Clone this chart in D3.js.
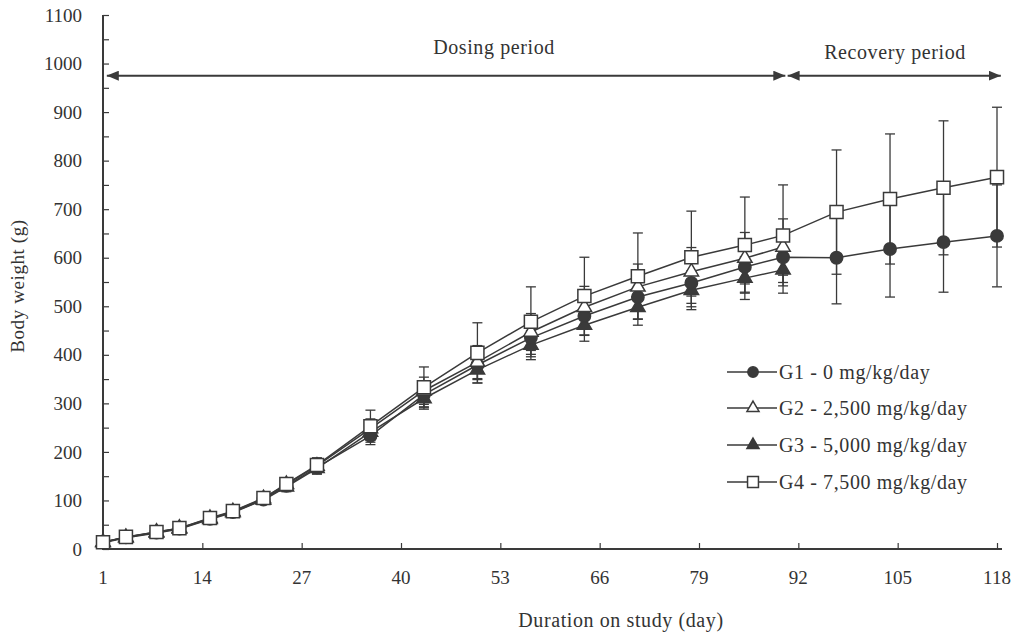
<!DOCTYPE html>
<html>
<head>
<meta charset="utf-8">
<script src="https://cdn.jsdelivr.net/npm/d3@7"></script>
<style>
  body { margin: 0; background: #fff; }
  text { font-family: "Liberation Serif", "Times New Roman", serif; fill: #333; }
  .wide { letter-spacing: 0.6px; }
</style>
</head>
<body>
<script>
const width = 1017;
const height = 635;

// study days where body weight was recorded
const days = [1, 4, 8, 11, 15, 18, 22, 25, 29, 36, 43, 50, 57, 64, 71, 78, 85, 90, 97, 104, 111, 118];

// mean body weight (g) and SD per group
const g1Mean = [14, 24, 34, 42, 62, 76, 102, 130, 168, 233, 318, 379, 435, 480, 519, 548, 581, 601, 600, 618, 632, 645];
const g1Sd = [2, 3, 4, 5, 6, 7, 9, 10, 12, 18, 25, 30, 34, 40, 45, 49, 52, 52, 95, 99, 103, 105];
const g2Mean = [14, 24, 35, 43, 63, 77, 104, 133, 171, 248, 326, 385, 447, 498, 540, 571, 599, 622];
const g2Sd = [2, 3, 4, 5, 6, 7, 9, 11, 13, 20, 28, 34, 38, 43, 47, 50, 53, 58];
const g3Mean = [13, 23, 33, 41, 61, 75, 101, 128, 166, 241, 310, 369, 420, 461, 498, 533, 558, 575];
const g3Sd = [2, 3, 4, 5, 6, 7, 9, 10, 12, 17, 22, 27, 30, 33, 37, 40, 44, 48];
const g4Mean = [14, 25, 35, 43, 64, 78, 105, 134, 173, 253, 333, 404, 468, 521, 562, 601, 626, 646, 694, 721, 744, 766];
const g4Sd = [3, 4, 5, 6, 8, 9, 11, 13, 15, 33, 42, 62, 72, 80, 89, 95, 99, 104, 128, 134, 138, 144];

const groupNames = ['G1 - 0 mg/kg/day', 'G2 - 2,500 mg/kg/day', 'G3 - 5,000 mg/kg/day', 'G4 - 7,500 mg/kg/day'];

const xTicks = [1, 14, 27, 40, 53, 66, 79, 92, 105, 118];
const yTicks = [0, 100, 200, 300, 400, 500, 600, 700, 800, 900, 1000, 1100];
const yMinorTicks = d3.range(0, 1101, 50);

// period arrows: [start day, end day, label]
const periods = [[1.5, 90.3, 'Dosing period'], [90.6, 118.5, 'Recovery period']];
const periodLevel = 975;

const ink = '#3a3a3a';

function makeSeries(mean, sd) {
  return mean.map((m, i) => ({ day: days[i], mean: m, sd: sd[i] }));
}

const groups = [
  { name: groupNames[0], data: makeSeries(g1Mean, g1Sd), symbol: d3.symbolCircle, size: 120, fill: ink },
  { name: groupNames[1], data: makeSeries(g2Mean, g2Sd), symbol: d3.symbolTriangle, size: 90, fill: '#fff' },
  { name: groupNames[2], data: makeSeries(g3Mean, g3Sd), symbol: d3.symbolTriangle, size: 90, fill: ink },
  { name: groupNames[3], data: makeSeries(g4Mean, g4Sd), symbol: d3.symbolSquare, size: 170, fill: '#fff' }
];

const x = d3.scaleLinear().domain([1, 118]).range([103, 997]);
const y = d3.scaleLinear().domain([0, 1100]).range([549, 15]);

const svg = d3.select('body')
              .append('svg')
              .attr('width', width)
              .attr('height', height);

// y axis
const yAxis = svg.append('g')
  .attr('transform', `translate(${x(1)},0)`)
  .call(d3.axisRight(y).tickValues(yMinorTicks).tickSize(6).tickFormat(''));
yAxis.select('.domain').remove();
yAxis.selectAll('line').attr('stroke', ink).attr('stroke-width', 1.2);
svg.append('line')
  .attr('x1', x(1)).attr('x2', x(1))
  .attr('y1', y(1100)).attr('y2', y(0))
  .attr('stroke', ink).attr('stroke-width', 2);
svg.selectAll('.ylabel')
  .data(yTicks)
  .enter()
  .append('text')
  .attr('class', 'ylabel')
  .attr('x', 82)
  .attr('y', d => y(d))
  .attr('dy', '0.35em')
  .attr('text-anchor', 'end')
  .attr('font-size', 19)
  .text(d => d);

// x axis
const xAxis = svg.append('g')
  .attr('transform', `translate(0,${y(0)})`)
  .call(d3.axisTop(x).tickValues(xTicks).tickSize(6).tickFormat(''));
xAxis.select('.domain').remove();
xAxis.selectAll('line').attr('stroke', ink).attr('stroke-width', 1.2);
svg.append('line')
  .attr('x1', x(1) - 1).attr('x2', x(118) + 5)
  .attr('y1', y(0)).attr('y2', y(0))
  .attr('stroke', ink).attr('stroke-width', 2);
svg.selectAll('.xlabel')
  .data(xTicks)
  .enter()
  .append('text')
  .attr('class', 'xlabel')
  .attr('x', d => x(d))
  .attr('y', 584)
  .attr('text-anchor', 'middle')
  .attr('font-size', 19)
  .text(d => d);

svg.append('text')
  .attr('class', 'wide')
  .attr('x', 621)
  .attr('y', 627)
  .attr('text-anchor', 'middle')
  .attr('font-size', 20)
  .text('Duration on study (day)');

svg.append('text')
  .attr('class', 'wide')
  .attr('transform', 'translate(24,286) rotate(-90)')
  .attr('text-anchor', 'middle')
  .attr('font-size', 19)
  .text('Body weight (g)');

// period arrows
svg.append('defs').selectAll('marker')
  .data(['start', 'end'])
  .enter()
  .append('marker')
  .attr('id', d => 'arrow-' + d)
  .attr('viewBox', '0 0 12 10')
  .attr('refX', d => d === 'end' ? 12 : 0)
  .attr('refY', 5)
  .attr('markerWidth', 12)
  .attr('markerHeight', 10)
  .attr('markerUnits', 'userSpaceOnUse')
  .attr('orient', 'auto')
  .append('path')
  .attr('d', d => d === 'end' ? 'M0,0L12,5L0,10Z' : 'M12,0L0,5L12,10Z')
  .attr('fill', ink);

svg.selectAll('.period')
  .data(periods)
  .enter()
  .append('line')
  .attr('class', 'period')
  .attr('x1', d => x(d[0]))
  .attr('x2', d => x(d[1]))
  .attr('y1', y(periodLevel))
  .attr('y2', y(periodLevel))
  .attr('stroke', ink)
  .attr('stroke-width', 2)
  .attr('marker-start', 'url(#arrow-start)')
  .attr('marker-end', 'url(#arrow-end)');

svg.selectAll('.period-label')
  .data(periods)
  .enter()
  .append('text')
  .attr('class', 'period-label wide')
  .attr('x', (d, i) => i === 0 ? 494 : 895)
  .attr('y', (d, i) => i === 0 ? 54 : 59)
  .attr('text-anchor', 'middle')
  .attr('font-size', 20)
  .text(d => d[2]);

// error bars
const capHalf = 5;
groups.forEach(function(group) {
  const bars = svg.append('g');
  bars.selectAll('line.stem')
    .data(group.data)
    .enter()
    .append('line')
    .attr('x1', d => x(d.day)).attr('x2', d => x(d.day))
    .attr('y1', d => y(d.mean - d.sd)).attr('y2', d => y(d.mean + d.sd))
    .attr('stroke', ink).attr('stroke-width', 1.3);
  ['lo', 'hi'].forEach(function(side) {
    bars.selectAll('line.cap-' + side)
      .data(group.data)
      .enter()
      .append('line')
      .attr('x1', d => x(d.day) - capHalf).attr('x2', d => x(d.day) + capHalf)
      .attr('y1', d => y(side === 'lo' ? d.mean - d.sd : d.mean + d.sd))
      .attr('y2', d => y(side === 'lo' ? d.mean - d.sd : d.mean + d.sd))
      .attr('stroke', ink).attr('stroke-width', 1.3);
  });
});

// lines
const line = d3.line().x(d => x(d.day)).y(d => y(d.mean));
groups.forEach(function(group) {
  svg.append('path')
    .datum(group.data)
    .attr('d', line)
    .attr('fill', 'none')
    .attr('stroke', ink)
    .attr('stroke-width', 1.5);
});

// markers, drawn G3, G1, G2, G4 so the squares sit on top
[2, 0, 1, 3].forEach(function(k) {
  const group = groups[k];
  const shape = d3.symbol().type(group.symbol).size(group.size);
  svg.append('g').selectAll('path')
    .data(group.data)
    .enter()
    .append('path')
    .attr('transform', d => `translate(${x(d.day)},${y(d.mean)})`)
    .attr('d', shape)
    .attr('fill', group.fill)
    .attr('stroke', ink)
    .attr('stroke-width', 1.5);
});

// legend
const legendRows = [372, 408, 445, 482];
const legend = svg.append('g');
groups.forEach(function(group, i) {
  const row = legend.append('g').attr('transform', `translate(0,${legendRows[i]})`);
  row.append('line')
    .attr('x1', 727).attr('x2', 777)
    .attr('y1', 0).attr('y2', 0)
    .attr('stroke', ink).attr('stroke-width', 1.5);
  row.append('path')
    .attr('transform', 'translate(753,0)')
    .attr('d', d3.symbol().type(group.symbol).size(group.size * 0.7))
    .attr('fill', group.fill)
    .attr('stroke', ink)
    .attr('stroke-width', 1.5);
  row.append('text')
    .attr('class', 'wide')
    .attr('x', 779)
    .attr('y', 0)
    .attr('dy', '0.35em')
    .attr('font-size', 20)
    .text(group.name);
});
</script>
</body>
</html>
